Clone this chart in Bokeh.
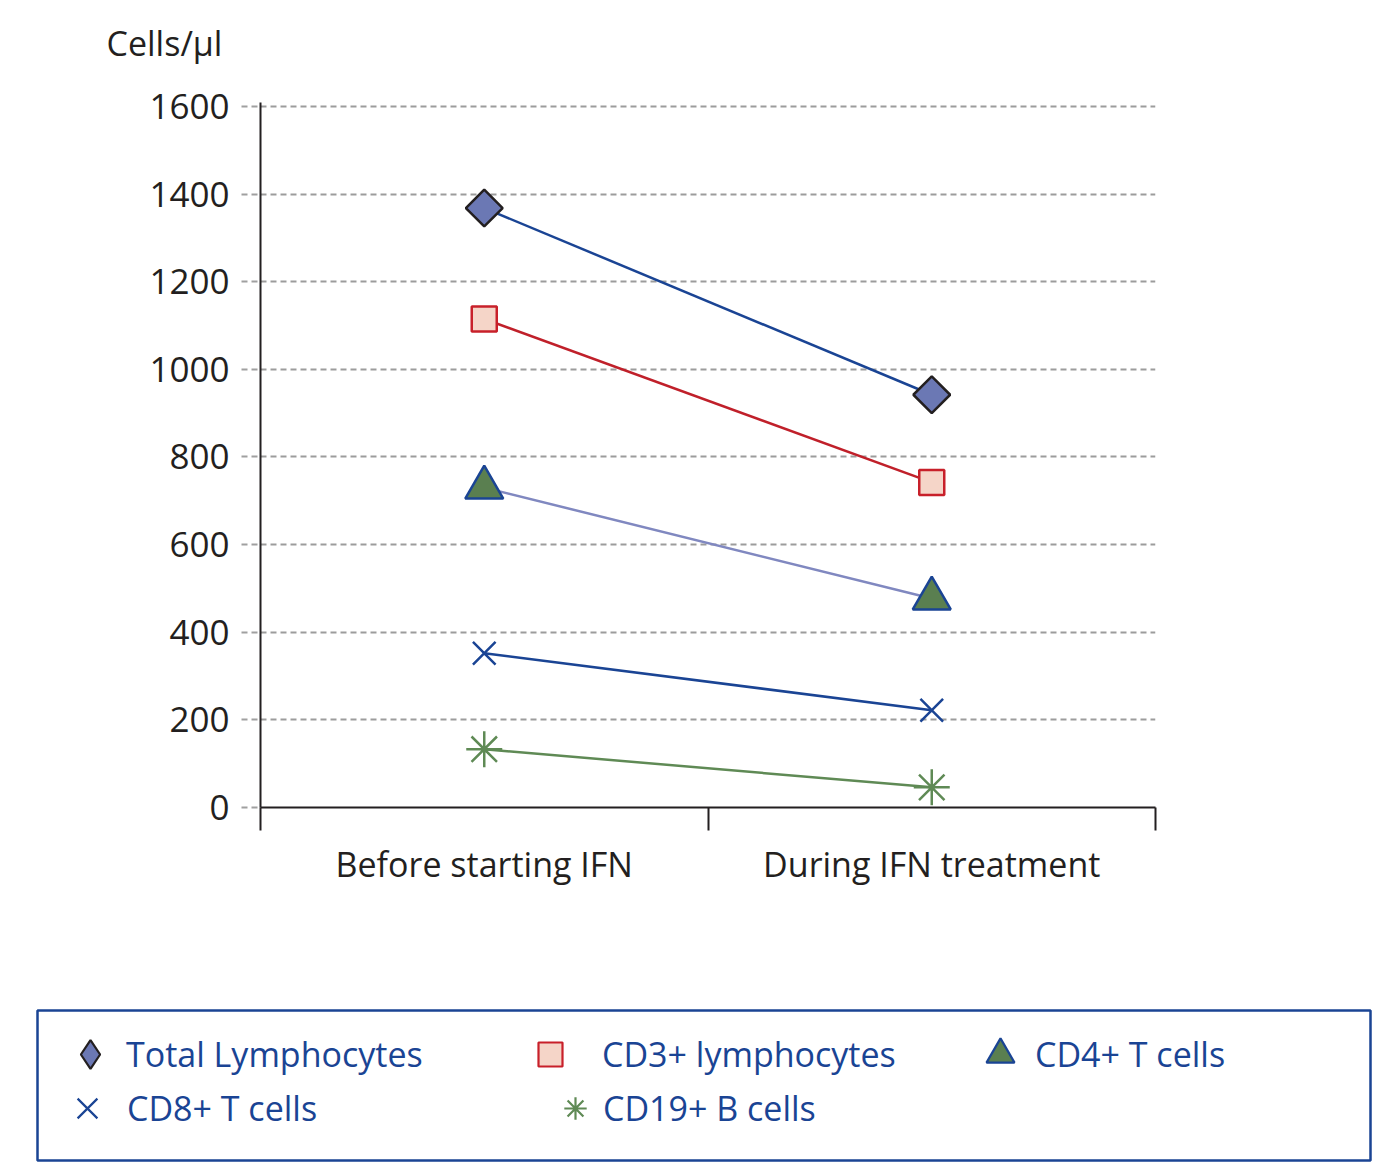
from bokeh.plotting import figure
from bokeh.models import (Range1d, FixedTicker, Legend, LegendItem, Label, ColumnDataSource)
from bokeh.embed import file_html
from bokeh.resources import INLINE

categories = ["Before starting IFN", "During IFN treatment"]
total_lymph = [1368, 942]
cd3 = [1115, 742]
cd4 = [730, 477]
cd8 = [352, 222]
cd19 = [133, 46]
y_ticks = [0, 200, 400, 600, 800, 1000, 1200, 1400, 1600]
y_title = "Cells/\u03bcl"

FONT = "Open Sans"
TXT = "#231f20"
BLUE = "#1a4494"

xpos = [i + 0.5 for i in range(len(categories))]

# header strip holding the unit label
TOP_H = 80
hf = figure(width=1375, height=TOP_H, output_backend="svg", toolbar_location=None,
            x_range=Range1d(0, 1375), y_range=Range1d(0, TOP_H),
            min_border=0)
hf.axis.visible = False
hf.grid.grid_line_color = None
hf.outline_line_color = None
hf.add_layout(Label(x=106, y=TOP_H - 42, text=y_title, text_font=FONT,
                    text_font_size="34px", text_color=TXT,
                    text_baseline="middle", text_align="left"))

p = figure(width=1375, height=1000 - TOP_H, output_backend="svg", toolbar_location=None,
           x_range=Range1d(0, 2), y_range=Range1d(0, 1609),
           min_border_left=260, min_border_right=220, min_border_top=102 - TOP_H,
           min_border_bottom=193)
p.outline_line_color = None

# y axis
ya = p.yaxis[0]
ya.ticker = FixedTicker(ticks=y_ticks)
ya.axis_line_color = TXT
ya.axis_line_width = 2
ya.major_tick_in = 0
ya.major_tick_out = 19
ya.major_tick_line_color = "#a0a0a0"
ya.major_tick_line_width = 2
ya.major_tick_line_dash = "6 4"
ya.minor_tick_line_color = None
ya.major_label_text_font = FONT
ya.major_label_text_font_size = "35px"
ya.major_label_text_color = TXT
ya.major_label_standoff = 12

# x axis
xa = p.xaxis[0]
xa.ticker = FixedTicker(ticks=xpos, minor_ticks=[0, 1, 2])
xa.major_label_overrides = {x: c for x, c in zip(xpos, categories)}
xa.axis_line_color = TXT
xa.axis_line_width = 2
xa.major_tick_line_color = None
xa.minor_tick_in = 0
xa.minor_tick_out = 23
xa.minor_tick_line_color = TXT
xa.minor_tick_line_width = 2
xa.major_label_text_font = FONT
xa.major_label_text_font_size = "34px"
xa.major_label_text_color = TXT
xa.major_label_standoff = 10

p.xgrid.grid_line_color = None
p.ygrid.ticker = FixedTicker(ticks=y_ticks[1:])
p.ygrid.grid_line_color = "#9c9c9c"
p.ygrid.grid_line_width = 2
p.ygrid.grid_line_dash = "6 4"

# legend panel (separate root so its frame is independent)
lf = figure(width=1375, height=170, output_backend="svg", toolbar_location=None,
            x_range=Range1d(10, 11), y_range=Range1d(10, 11),
            min_border_left=37, min_border_right=5, min_border_top=10,
            min_border_bottom=10)
lf.axis.visible = False
lf.grid.grid_line_color = None
lf.outline_line_color = BLUE
lf.outline_line_width = 2.5

# legend layout: (glyph box, x, y, standoff)
leg_layout = {
    "Total Lymphocytes": (72, 17, 70, 0),
    "CD3+ lymphocytes": (60, 483, 76, 22),
    "CD4+ T cells": (70, 928, 71, 0),
    "CD8+ T cells": (70, 15, 17, 5),
    "CD19+ B cells": (56, 510, 24, 0),
}

def series(vals, line_color, marker, size, fill, outline, name, angle=0.0, leg_marker=None):
    src = ColumnDataSource(dict(x=xpos, y=vals))
    p.line("x", "y", source=src, line_color=line_color, line_width=2.5)
    p.scatter("x", "y", source=src, marker=marker, size=size, fill_color=fill,
              line_color=outline, line_width=2.5, angle=angle)
    # off-range copy used only to draw the legend swatch
    s2 = lf.scatter("x", "y", source=src, marker=leg_marker or marker, size=size,
                    fill_color=fill, line_color=outline, line_width=2.2)
    gw, lx, ly, so = leg_layout[name]
    lg = Legend(items=[LegendItem(label=name, renderers=[s2])], location=(lx, ly),
                label_text_font=FONT, label_text_font_size="34px",
                label_text_color=BLUE, label_height=gw, label_width=10,
                glyph_width=gw, glyph_height=gw, label_standoff=so,
                spacing=0, padding=0, margin=0,
                border_line_color=None, background_fill_alpha=0)
    lf.add_layout(lg, "center")

series(total_lymph, BLUE, "square", 26, "#6b78b4", "#231f20", "Total Lymphocytes",
       angle=0.7853981634, leg_marker="diamond")
series(cd3, "#c0202a", "square", 25, "#f5d5c8", "#c8202a", "CD3+ lymphocytes")
series(cd4, "#8088c0", "triangle", 38, "#5a7f50", BLUE, "CD4+ T cells")
series(cd8, BLUE, "x", 32, None, BLUE, "CD8+ T cells")
series(cd19, "#5f8a55", "asterisk", 36, None, "#5f8a55", "CD19+ B cells")

open("out.html", "w").write(file_html([hf, p, lf], INLINE))
